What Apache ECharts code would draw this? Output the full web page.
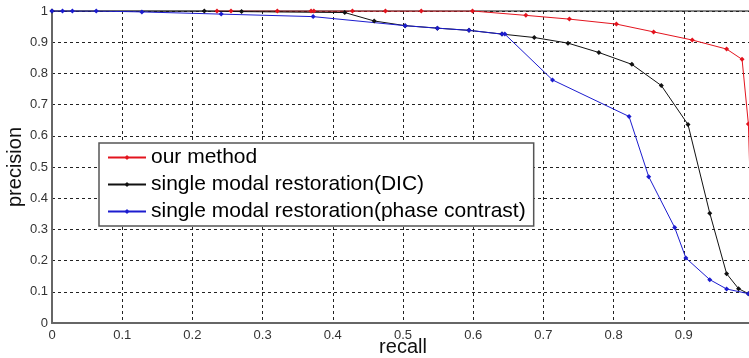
<!DOCTYPE html>
<html>
<head>
<meta charset="utf-8">
<script src="https://cdn.jsdelivr.net/npm/echarts@6/dist/echarts.min.js"></script>
<style>
  html, body { margin: 0; padding: 0; background: #fff; }
  #chart { width: 749px; height: 358px; }
</style>
</head>
<body>
<div id="chart"></div>
<script>
// values (recall, precision)
const oursRecall = [0.235, 0.255, 0.321, 0.369, 0.373, 0.428, 0.475, 0.526, 0.599, 0.675, 0.737, 0.804, 0.857, 0.912, 0.961, 0.983, 0.992, 0.999];
const oursPrecision = [1, 1, 1, 1, 1, 1, 1, 1, 1, 0.986, 0.974, 0.958, 0.933, 0.907, 0.878, 0.845, 0.638, 0.1];

const dicRecall = [0, 0.217, 0.270, 0.417, 0.459, 0.503, 0.549, 0.594, 0.641, 0.687, 0.735, 0.779, 0.826, 0.868, 0.906, 0.937, 0.961, 0.978, 0.992];
const dicPrecision = [1, 1, 0.998, 0.995, 0.968, 0.953, 0.945, 0.938, 0.926, 0.915, 0.897, 0.867, 0.829, 0.761, 0.636, 0.352, 0.158, 0.110, 0.094];

const phaseRecall = [0, 0.015, 0.029, 0.063, 0.128, 0.241, 0.372, 0.503, 0.549, 0.594, 0.641, 0.645, 0.713, 0.822, 0.850, 0.887, 0.903, 0.937, 0.961, 0.992];
const phasePrecision = [1, 1, 1, 1, 0.997, 0.99, 0.982, 0.953, 0.945, 0.938, 0.926, 0.926, 0.779, 0.662, 0.469, 0.306, 0.208, 0.139, 0.109, 0.094];

const seriesNames = ['our method', 'single modal restoration(DIC)', 'single modal restoration(phase contrast)'];
const seriesColors = ['#e3141e', '#111111', '#1c1ccf'];

const zip = (xs, ys) => xs.map((x, i) => [x, ys[i]]);
const curves = [
	zip(oursRecall, oursPrecision),
	zip(dicRecall, dicPrecision),
	zip(phaseRecall, phasePrecision)
];

const font = '"Liberation Sans", Arial, sans-serif';

const gridLine = {
	show: true,
	lineStyle: { color: '#222', width: 1, type: [3, 3] }
};

const chart = echarts.init(document.getElementById('chart'), null, { renderer: 'canvas' });

chart.setOption({
	animation: false,
	backgroundColor: '#fff',
	grid: {
		left: 52,
		top: 11,
		bottom: 35,
		right: -5,
		outerBoundsMode: 'none',
		containLabel: false,
		show: true,
		borderColor: '#111',
		borderWidth: 1,
		backgroundColor: 'transparent'
	},
	legend: {
		data: seriesNames,
		orient: 'vertical',
		left: 99,
		top: 143,
		padding: [4, 8, 4, 8],
		itemGap: 6,
		itemWidth: 38,
		itemHeight: 6,
		borderColor: '#555',
		borderWidth: 1.5,
		backgroundColor: '#fff',
		selectedMode: false,
		textStyle: { fontFamily: font, fontSize: 21, color: '#000', lineHeight: 21 }
	},
	xAxis: {
		type: 'value',
		min: 0,
		max: 1,
		interval: 0.1,
		name: 'recall',
		nameLocation: 'middle',
		nameGap: 14,
		nameMoveOverlap: false,
		nameTextStyle: { fontFamily: font, fontSize: 20, color: '#111' },
		axisLine: { show: true, lineStyle: { color: '#666', width: 2 } },
		axisTick: { show: false },
		axisLabel: { fontFamily: font, fontSize: 13, color: '#333', margin: 6 },
		splitLine: gridLine
	},
	yAxis: {
		type: 'value',
		min: 0,
		max: 1,
		interval: 0.1,
		name: 'precision',
		nameLocation: 'middle',
		nameGap: 27,
		nameMoveOverlap: false,
		nameTextStyle: { fontFamily: font, fontSize: 20, color: '#111' },
		axisLine: { show: true, lineStyle: { color: '#666', width: 2 } },
		axisTick: { show: false },
		axisLabel: { fontFamily: font, fontSize: 13, color: '#333', margin: 4 },
		splitLine: gridLine
	},
	series: curves.map((data, i) => ({
		name: seriesNames[i],
		type: 'line',
		data: data,
		symbol: 'diamond',
		symbolSize: 5,
		showAllSymbol: true,
		lineStyle: { color: seriesColors[i], width: 1 },
		itemStyle: { color: seriesColors[i] },
		clip: true
	}))
});
</script>
</body>
</html>
